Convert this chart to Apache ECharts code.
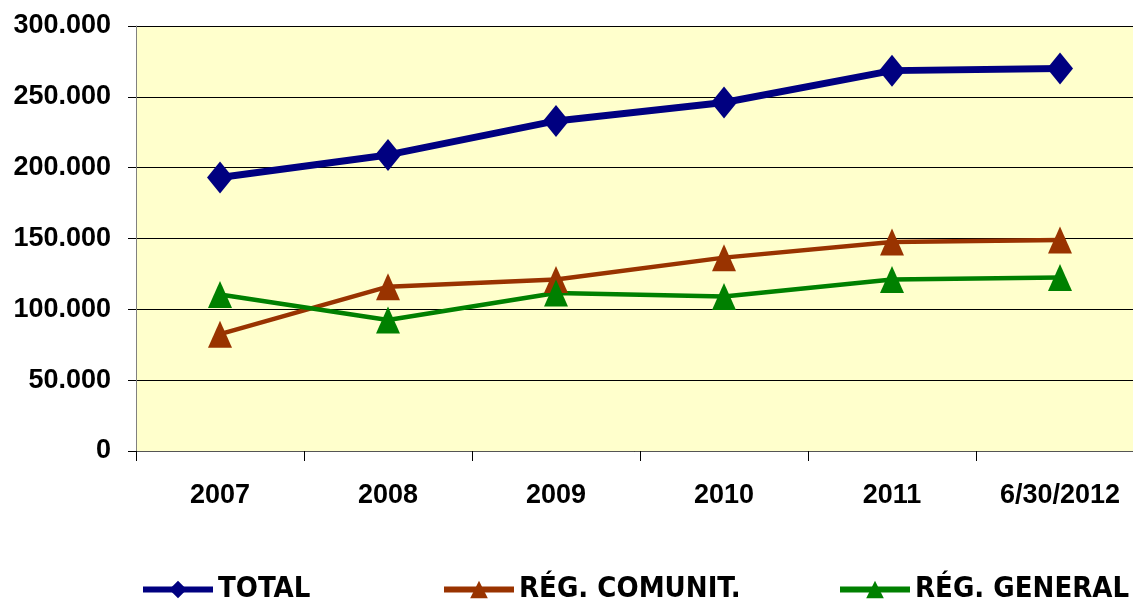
<!DOCTYPE html>
<html><head><meta charset="utf-8">
<script src="https://cdn.jsdelivr.net/npm/echarts@6/dist/echarts.min.js"></script>
<style>html,body{margin:0;padding:0;background:#fff}#c{width:1133px;height:602px}</style>
</head><body><div id="c"></div>
<script>
const categories = ['2007','2008','2009','2010','2011','6/30/2012'];
const total = [193000, 209000, 233000, 246000, 268500, 270000];
const regComunit = [82500, 116000, 121000, 136500, 147500, 149000];
const regGeneral = [110500, 92500, 111500, 109000, 121000, 122500];
const seriesNames = ['TOTAL', 'RÉG. COMUNIT.', 'RÉG. GENERAL'];
const yTicks = [0, 50000, 100000, 150000, 200000, 250000, 300000];

const fmt = v => v === 0 ? '0' : String(v).replace(/\B(?=(\d{3})+(?!\d))/g, '.');
const chart = echarts.init(document.getElementById('c'), null, {renderer:'canvas'});
const font = 'Liberation Sans, Arial, sans-serif';
const legFont = 'DejaVu Sans Condensed, sans-serif';
const legLefts = [140, 441, 837];
chart.setOption({
  animation: false,
  backgroundColor: '#ffffff',
  grid: {left: 136, top: 26, width: 1008, height: 425, backgroundColor: '#FFFFCC', show: true, borderWidth: 0, outerBoundsMode: 'none', containLabel: false},
  legend: seriesNames.map((n, i) => ({
    left: legLefts[i], top: 575, padding: 0, itemWidth: 70, itemHeight: 22, itemGap: 0,
    lineStyle: {width: 6},
    textStyle: {fontFamily: legFont, fontWeight: 'bold', fontSize: 29, color: '#000'},
    data: [n]
  })),
  xAxis: {
    type: 'category', data: categories, boundaryGap: true,
    axisLine: {lineStyle: {color: '#555', width: 1}},
    axisTick: {show: true, length: 10, lineStyle: {color: '#000'}},
    axisLabel: {fontFamily: font, fontWeight: 'bold', fontSize: 27, color: '#000', margin: 31}
  },
  yAxis: {
    type: 'value', min: yTicks[0], max: yTicks[yTicks.length-1], interval: 50000,
    axisLine: {show: true, lineStyle: {color: '#808080', width: 1}},
    axisTick: {show: true, length: 8, lineStyle: {color: '#000'}},
    splitLine: {show: true, lineStyle: {color: '#000', width: 1}},
    axisLabel: {fontFamily: font, fontWeight: 'bold', fontSize: 27, color: '#000', margin: 25, formatter: fmt}
  },
  series: [
    {name: seriesNames[0], type: 'line', data: total, symbol: 'diamond', symbolSize: [26, 32],
     lineStyle: {color: '#000080', width: 7}, itemStyle: {color: '#000080'}},
    {name: seriesNames[1], type: 'line', data: regComunit, symbol: 'triangle', symbolSize: [24, 27],
     lineStyle: {color: '#993300', width: 4.5}, itemStyle: {color: '#993300'}},
    {name: seriesNames[2], type: 'line', data: regGeneral, symbol: 'triangle', symbolSize: [24, 27],
     lineStyle: {color: '#008000', width: 4.5}, itemStyle: {color: '#008000'}}
  ]
});
</script></body></html>
